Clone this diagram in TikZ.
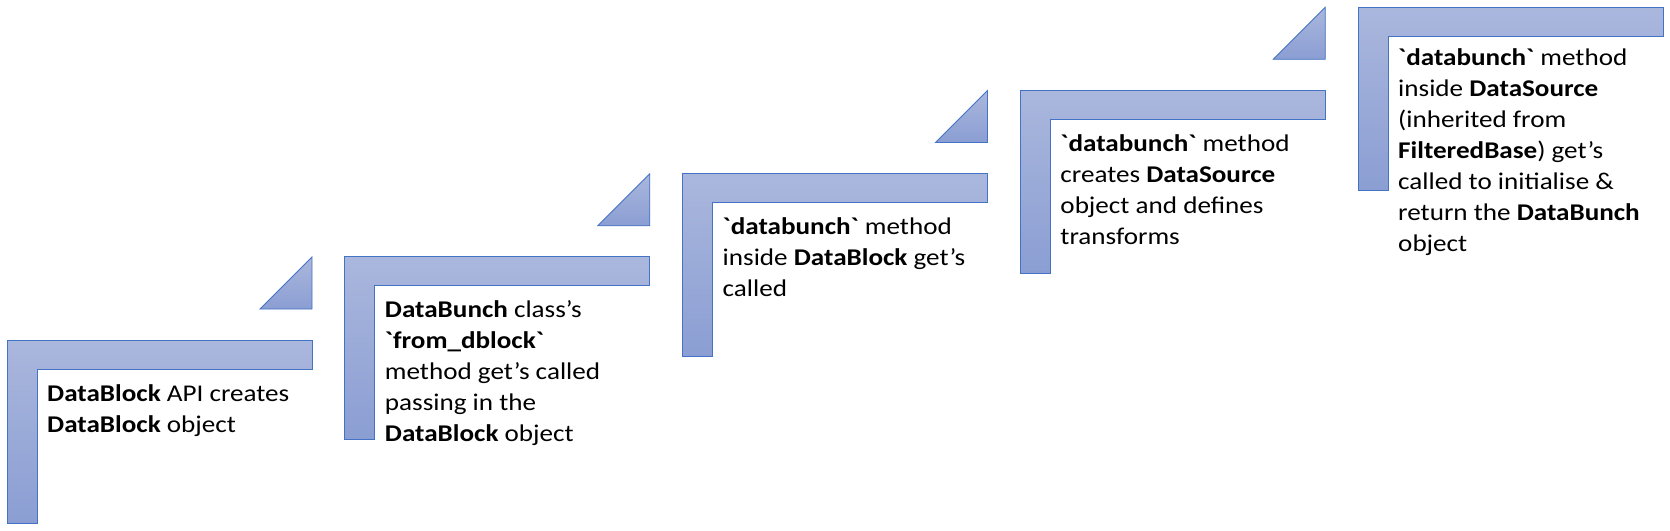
\documentclass[tikz,border=0pt]{standalone}
\usepackage{fontspec}
\newfontfamily\calib{Carlito}[FakeStretch=1.13]
\usetikzlibrary{calc}

\definecolor{steptop}{HTML}{AAB7DD}
\definecolor{stepbot}{HTML}{8B9ED3}
\definecolor{stepline}{HTML}{4472C4}

\tikzset{
  stepshape/.style={draw=stepline, line width=0.8pt, top color=steptop, bottom color=stepbot},
  steptext/.style={anchor=north west, inner sep=0pt, align=left,
    font=\calib\fontsize{24}{31}\selectfont},
}
\newcommand{\tstrut}{\rule{0pt}{21pt}}

\begin{document}
\begin{tikzpicture}[x=1pt, y=-1pt]
			\useasboundingbox (0,0) rectangle (1670,530);
			% staircase of L shapes, one step per stage
			\foreach \i in {0,...,4} {
				\pgfmathsetmacro{\l}{7+337.75*\i}
				\pgfmathsetmacro{\t}{340-83.25*\i}
				\draw[stepshape] (\l,\t) -- ++(305,0) -- ++(0,29) -- ++(-275,0)
					-- ++(0,154) -- ++(-30,0) -- cycle;
			}
			% small triangles pointing up to the next step
			\foreach \i in {0,...,3} {
				\pgfmathsetmacro{\r}{312+337.75*\i}
				\pgfmathsetmacro{\t}{340-83.25*\i}
				\draw[stepshape] (\r,\t-31) -- ++(-52,0) -- ++(52,-52) -- cycle;
			}
			\node[steptext] (s1) at (47,340+40) {\tstrut\textbf{DataBlock} API creates\\
				\textbf{DataBlock} object};
			\node[steptext] (s2) at (384.75,256.75+40) {\tstrut\textbf{DataBunch} class’s\\
				\textbf{`from\_dblock`}\\method get’s called\\passing in the\\
				\textbf{DataBlock} object};
			\node[steptext] (s3) at (722.5,173.5+40) {\tstrut\textbf{`databunch`} method\\
				inside \textbf{DataBlock} get’s\\called};
			\node[steptext] (s4) at (1060.25,90.25+40) {\tstrut\textbf{`databunch`} method\\
				creates \textbf{DataSource}\\object and defines\\transforms};
			\node[steptext] (s5) at (1398,7+37) {\tstrut\textbf{`databunch`} method\\
				inside \textbf{DataSource}\\(inherited from\\
				\textbf{FilteredBase}) get’s\\called to initialise \&\\
				return the \textbf{DataBunch}\\object};
\end{tikzpicture}
\end{document}
